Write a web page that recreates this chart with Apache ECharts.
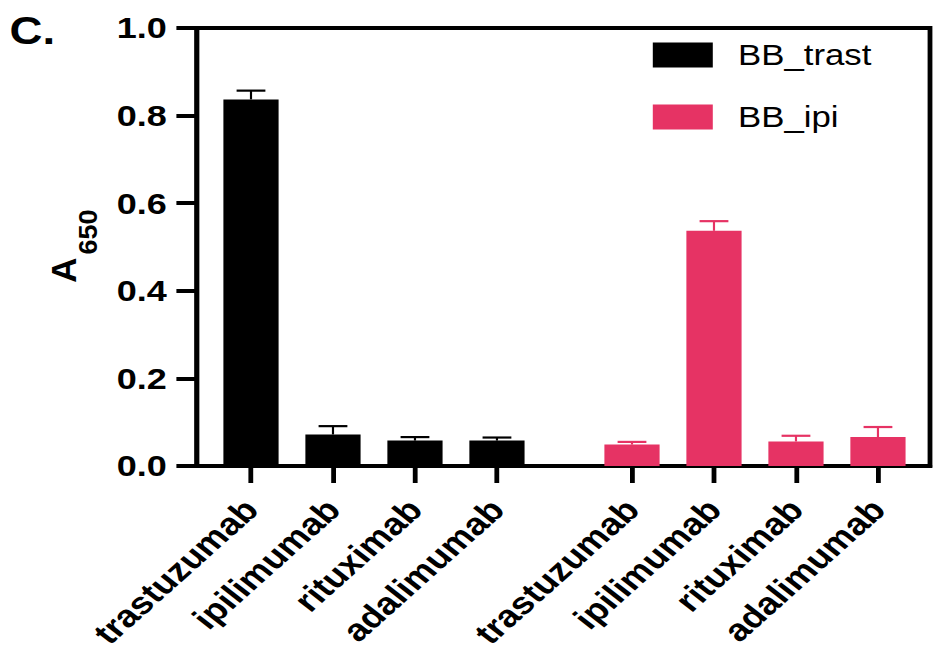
<!DOCTYPE html>
<html>
<head>
<meta charset="utf-8">
<script src="https://cdn.jsdelivr.net/npm/echarts@6/dist/echarts.min.js"></script>
<style>
  html, body { margin: 0; padding: 0; background: #fff; overflow: hidden; }
  /* the figure is laid out narrow and widened horizontally */
  #chart { width: 778px; height: 652px; transform: scaleX(1.2); transform-origin: 0 0; }
</style>
</head>
<body>
<div id="chart"></div>
<script>
// antibody panel, one group of bars per bead type
const categories = ['trastuzumab', 'ipilimumab', 'rituximab', 'adalimumab'];
const trastMean = [0.837, 0.072, 0.058, 0.058];
const trastErr  = [0.020, 0.019, 0.008, 0.007];
const ipiMean   = [0.049, 0.537, 0.056, 0.066];
const ipiErr    = [0.006, 0.022, 0.013, 0.023];
const yTicks    = [0.0, 0.2, 0.4, 0.6, 0.8, 1.0];

const BLACK = '#000000';
const PINK = '#E63364';
const FONT = '"Liberation Sans", Arial, Helvetica, sans-serif';

const chart = echarts.init(document.getElementById('chart'), null, { renderer: 'svg' });

function errorBars(color) {
  return function (params, api) {
    const i = api.value(0);
    const base = api.coord([i, api.value(1)]);
    const top = api.coord([i, api.value(2)]);
    const half = 12;
    return {
      type: 'group',
      children: [
        { type: 'line', shape: { x1: base[0], y1: base[1], x2: top[0], y2: top[1] },
          style: { stroke: color, lineWidth: 1.8 } },
        { type: 'line', shape: { x1: top[0] - half, y1: top[1], x2: top[0] + half, y2: top[1] },
          style: { stroke: color, lineWidth: 2.2 } }
      ]
    };
  };
}

function groupAxis(gridIndex) {
  return {
    type: 'category', gridIndex: gridIndex, data: categories,
    axisLine: { show: false },
    axisTick: { show: true, alignWithLabel: true, length: 17, lineStyle: { color: BLACK, width: 4 } },
    axisLabel: { interval: 0, rotate: 47, margin: 38, color: BLACK,
                 fontFamily: FONT, fontWeight: 'bold', fontSize: 31 },
    splitLine: { show: false }
  };
}

function hiddenY(gridIndex) {
  return { type: 'value', gridIndex: gridIndex, min: 0, max: 1, show: false };
}

// rotated axis title, drawn as two pieces so the subscript can sit low
function titlePiece(text, x, y, size) {
  return { type: 'text', x: x, y: y, rotation: Math.PI / 2, scaleY: 0.82,
           style: { text: text, align: 'center', verticalAlign: 'middle', fill: BLACK,
                    font: 'bold ' + size + 'px ' + FONT } };
}

const option = {
  animation: false,
  backgroundColor: '#ffffff',
  grid: [
    { left: 175, width: 273.3, top: 28, bottom: 186, outerBoundsMode: 'none', containLabel: false },
    { left: 492.5, width: 273.3, top: 28, bottom: 186, outerBoundsMode: 'none', containLabel: false },
    { left: 164, right: 3, top: 28, bottom: 186, outerBoundsMode: 'none', containLabel: false,
      show: true, borderColor: BLACK, borderWidth: 4, backgroundColor: 'transparent' }
  ],
  xAxis: [
    groupAxis(0),
    groupAxis(1),
    { type: 'category', gridIndex: 2, data: [''], boundaryGap: true,
      axisLine: { show: true, lineStyle: { color: BLACK, width: 4 } },
      axisTick: { show: false }, axisLabel: { show: false }, splitLine: { show: false } }
  ],
  yAxis: [
    hiddenY(0),
    hiddenY(1),
    { type: 'value', gridIndex: 2, min: yTicks[0], max: yTicks[yTicks.length - 1], interval: 0.2,
      axisLine: { show: true, lineStyle: { color: BLACK, width: 4 } },
      axisTick: { show: true, length: 17, lineStyle: { color: BLACK, width: 4 } },
      axisLabel: { margin: 25, color: BLACK, fontFamily: FONT, fontWeight: 'bold', fontSize: 30,
                   formatter: v => v.toFixed(1) },
      splitLine: { show: false } }
  ],
  legend: {
    orient: 'vertical', left: 544, top: 40, padding: 0,
    icon: 'rect', itemWidth: 50, itemHeight: 25, itemGap: 32,
    data: ['BB_trast', 'BB_ipi'],
    textStyle: { color: BLACK, fontFamily: FONT, fontSize: 29, lineHeight: 30, padding: [0, 0, 0, 16] }
  },
  graphic: [
    { type: 'text', left: 8, top: 12,
      style: { text: 'C.', fill: BLACK, font: 'bold 38px ' + FONT } },
    titlePiece('A', 53, 270, 35),
    titlePiece('650', 73, 232, 27)
  ],
  series: [
    { name: 'BB_trast', type: 'bar', xAxisIndex: 0, yAxisIndex: 0, barWidth: 46,
      itemStyle: { color: BLACK }, data: trastMean, z: 2 },
    { name: 'BB_ipi', type: 'bar', xAxisIndex: 1, yAxisIndex: 1, barWidth: 46,
      itemStyle: { color: PINK }, data: ipiMean, z: 2 },
    { name: 'trast error', type: 'custom', xAxisIndex: 0, yAxisIndex: 0, z: 3,
      renderItem: errorBars(BLACK),
      data: categories.map((c, i) => [i, trastMean[i], trastMean[i] + trastErr[i]]) },
    { name: 'ipi error', type: 'custom', xAxisIndex: 1, yAxisIndex: 1, z: 3,
      renderItem: errorBars(PINK),
      data: categories.map((c, i) => [i, ipiMean[i], ipiMean[i] + ipiErr[i]]) }
  ]
};

chart.setOption(option);
</script>
</body>
</html>
